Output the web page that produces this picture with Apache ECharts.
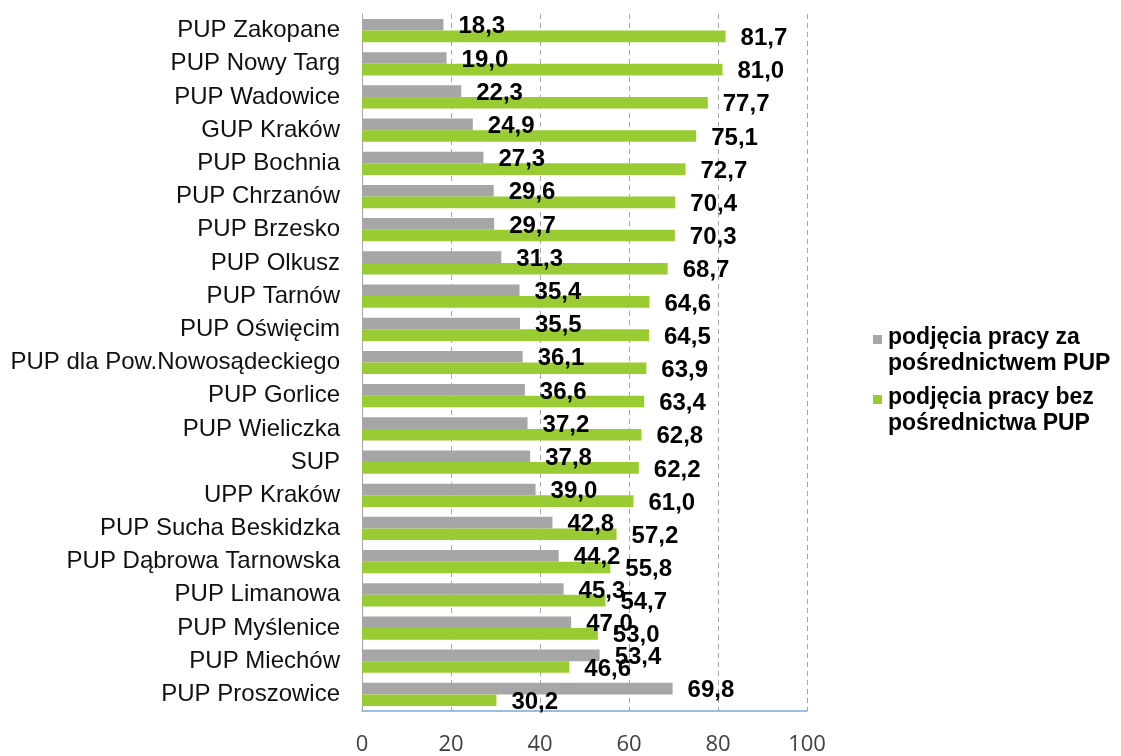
<!DOCTYPE html>
<html>
<head>
<meta charset="utf-8">
<script src="https://cdn.jsdelivr.net/npm/echarts@6/dist/echarts.min.js"></script>
<style>
  html, body { margin: 0; padding: 0; background: #fff; }
  #chart { width: 1121px; height: 756px; }
</style>
</head>
<body>
<div id="chart"></div>
<script>
// urzędy pracy, od góry do dołu
const offices = [
  "PUP Zakopane", "PUP Nowy Targ", "PUP Wadowice", "GUP Kraków", "PUP Bochnia",
  "PUP Chrzanów", "PUP Brzesko", "PUP Olkusz", "PUP Tarnów", "PUP Oświęcim",
  "PUP dla Pow.Nowosądeckiego", "PUP Gorlice", "PUP Wieliczka", "SUP", "UPP Kraków",
  "PUP Sucha Beskidzka", "PUP Dąbrowa Tarnowska", "PUP Limanowa", "PUP Myślenice",
  "PUP Miechów", "PUP Proszowice"
];
const viaPup = [
  18.3, 19.0, 22.3, 24.9, 27.3, 29.6, 29.7, 31.3, 35.4, 35.5,
  36.1, 36.6, 37.2, 37.8, 39.0, 42.8, 44.2, 45.3, 47.0, 53.4, 69.8
];
const withoutPup = [
  81.7, 81.0, 77.7, 75.1, 72.7, 70.4, 70.3, 68.7, 64.6, 64.5,
  63.9, 63.4, 62.8, 62.2, 61.0, 57.2, 55.8, 54.7, 53.0, 46.6, 30.2
];
const seriesNames = [
  "podjęcia pracy za\npośrednictwem PUP",
  "podjęcia pracy bez\npośrednictwa PUP"
];
const xTicks = { min: 0, max: 100, interval: 20 };

// kwadracik legendy przy pierwszej linii tekstu (pusty punkt na dole rozciąga pole ikony)
const legendIcon = "path://M0,0H9V9H0Z M0,32L0.01,32";

const chart = echarts.init(document.getElementById("chart"), null, { renderer: "canvas" });

const valueLabel = {
  show: true,
  position: "right",
  distance: 15,
  offset: [0, 2],
  color: "#000",
  fontFamily: "Liberation Sans, Arial, sans-serif",
  fontWeight: "bold",
  fontSize: 24,
  formatter: (p) => p.value.toFixed(1).replace(".", ",")
};

chart.setOption({
  animation: false,
  backgroundColor: "#fff",
  grid: {
    left: 362, right: 314, top: 14, bottom: 45,
    containLabel: false,
    outerBoundsMode: "none"
  },
  legend: {
    orient: "vertical",
    left: 868,
    top: 320,
    icon: legendIcon,
    itemWidth: 9,
    itemHeight: 32,
    itemGap: 8,
    textStyle: {
      color: "#000",
      fontFamily: "Liberation Sans, Arial, sans-serif",
      fontWeight: "bold",
      fontSize: 23,
      lineHeight: 26,
      padding: [0, 0, 0, 1]
    },
    data: seriesNames
  },
  xAxis: {
    type: "value",
    min: xTicks.min,
    max: xTicks.max,
    interval: xTicks.interval,
    axisLine: { show: true, lineStyle: { color: "#7ea6d8", width: 1.5 } },
    axisTick: { show: false },
    axisLabel: {
      margin: 23,
      color: "#404040",
      fontFamily: "Open Sans, sans-serif",
      fontSize: 22
    },
    splitLine: { show: true, lineStyle: { color: "#a6a6a6", type: [5, 4] } }
  },
  yAxis: {
    type: "category",
    inverse: true,
    data: offices,
    axisLine: { show: true, lineStyle: { color: "#a6a6a6", width: 1 } },
    axisTick: { show: false },
    axisLabel: {
      margin: 22,
      color: "#111",
      fontFamily: "Liberation Sans, Arial, sans-serif",
      fontSize: 24
    }
  },
  series: [
    {
      name: seriesNames[0],
      type: "bar",
      data: viaPup,
      itemStyle: { color: "#a6a6a6" },
      barGap: "0%",
      barCategoryGap: "30%",
      label: valueLabel
    },
    {
      name: seriesNames[1],
      type: "bar",
      data: withoutPup,
      itemStyle: { color: "#99cc33" },
      barGap: "0%",
      barCategoryGap: "30%",
      label: valueLabel
    }
  ]
});

window.addEventListener("resize", () => chart.resize());
</script>
</body>
</html>
